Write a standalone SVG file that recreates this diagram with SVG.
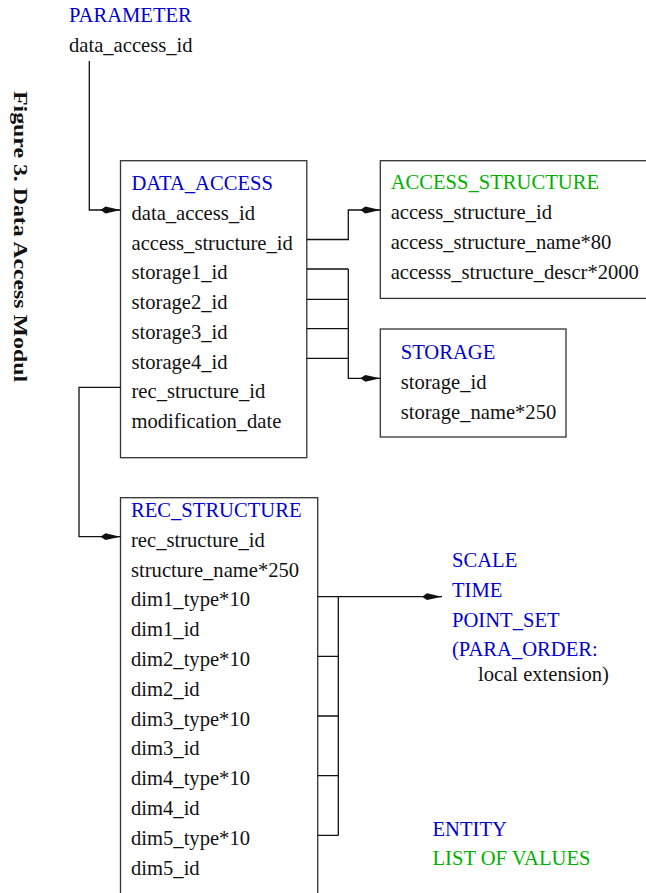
<svg xmlns="http://www.w3.org/2000/svg" width="646" height="893" viewBox="0 0 646 893">
<style>
text{font-family:"Liberation Serif","Times New Roman",serif;font-size:20.6px;fill:#111}
.b{fill:#0000d0}
.g{fill:#00b000}
.box{fill:#fff;stroke:#333;stroke-width:1.3}
.c{fill:none;stroke:#111;stroke-width:1.3}
</style>
<defs>
<marker id="ah" viewBox="-21 -4 22 8" refX="0" refY="0" markerWidth="22" markerHeight="8" markerUnits="userSpaceOnUse" orient="auto">
<path d="M0,0 L-15,-3.4 L-20,0 L-15,3.4 Z" fill="#111"/>
</marker>
</defs>
<rect width="646" height="893" fill="#fff"/>
<text id="title" transform="translate(13.5,91) rotate(90)" style="font-weight:bold;font-size:19px" textLength="291" lengthAdjust="spacingAndGlyphs">Figure 3. Data Access Modul</text>
<g id="parameter">
<text class="b" x="69" y="22">PARAMETER</text>
<text x="69" y="52">data_access_id</text>
</g>
<g id="data_access">
<rect class="box" x="120.5" y="160.7" width="186.3" height="297"/>
<text class="b" x="131.5" y="190">DATA_ACCESS</text>
<text x="131.5" y="220">data_access_id</text>
<text x="131.5" y="249.7">access_structure_id</text>
<text x="131.5" y="279.4">storage1_id</text>
<text x="131.5" y="309.1">storage2_id</text>
<text x="131.5" y="338.8">storage3_id</text>
<text x="131.5" y="368.5">storage4_id</text>
<text x="131.5" y="398.2">rec_structure_id</text>
<text x="131.5" y="427.9">modification_date</text>
</g>
<g id="access_structure">
<rect class="box" x="380.3" y="160.7" width="280" height="137.7"/>
<text class="g" x="390.7" y="189.3">ACCESS_STRUCTURE</text>
<text x="390.7" y="219.3">access_structure_id</text>
<text x="390.7" y="249.3">access_structure_name*80</text>
<text x="390.7" y="279.3">accesss_structure_descr*2000</text>
</g>
<g id="storage">
<rect class="box" x="380.3" y="329" width="185.7" height="108"/>
<text class="b" x="400.7" y="359">STORAGE</text>
<text x="400.7" y="389">storage_id</text>
<text x="400.7" y="418.5">storage_name*250</text>
</g>
<g id="rec_structure">
<rect class="box" x="120.5" y="497.7" width="197.2" height="420"/>
<text class="b" x="131" y="516.7">REC_STRUCTURE</text>
<text x="131" y="546.7">rec_structure_id</text>
<text x="131" y="576.5">structure_name*250</text>
<text x="131" y="606.3">dim1_type*10</text>
<text x="131" y="636.1">dim1_id</text>
<text x="131" y="665.9">dim2_type*10</text>
<text x="131" y="695.7">dim2_id</text>
<text x="131" y="725.5">dim3_type*10</text>
<text x="131" y="755.3">dim3_id</text>
<text x="131" y="785.1">dim4_type*10</text>
<text x="131" y="814.9">dim4_id</text>
<text x="131" y="844.7">dim5_type*10</text>
<text x="131" y="874.5">dim5_id</text>
</g>
<g id="dim_types">
<text class="b" x="452" y="566.7">SCALE</text>
<text class="b" x="452" y="596.7">TIME</text>
<text class="b" x="452" y="626.5">POINT_SET</text>
<text class="b" x="452" y="656">(PARA_ORDER:</text>
<text x="478" y="681">local extension)</text>
</g>
<g id="legend">
<text class="b" x="432.5" y="835.5">ENTITY</text>
<text class="g" x="432.5" y="865">LIST OF VALUES</text>
</g>
<g id="connectors">
<path class="c" d="M89.3,61 V210 H120.5" marker-end="url(#ah)"/>
<path class="c" d="M306.8,239.5 H348.3 V210 H380.3" marker-end="url(#ah)"/>
<path class="c" d="M306.8,269 H348.3 M306.8,299.3 H348.3 M306.8,328.7 H348.3 M306.8,358.3 H348.3"/>
<path class="c" d="M348.3,269 V378.3 H380.3" marker-end="url(#ah)"/>
<path class="c" d="M120.5,387.3 H79 V536.7 H120.5" marker-end="url(#ah)"/>
<path class="c" d="M317.7,596.7 H442" marker-end="url(#ah)"/>
<path class="c" d="M317.7,656.3 H338.3 M317.7,716 H338.3 M317.7,775.7 H338.3 M317.7,835.4 H338.3 M338.3,596.7 V835.4"/>
</g>
</svg>
